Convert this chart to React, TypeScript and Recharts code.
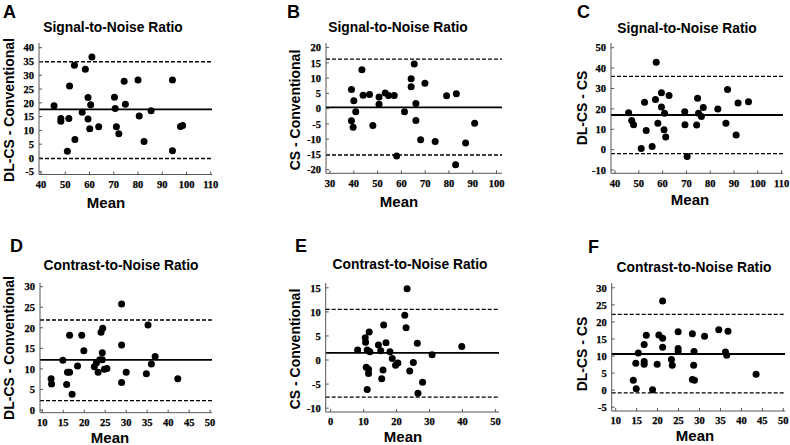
import React from "react";
import { ScatterChart, Scatter, XAxis, YAxis, ReferenceLine } from "recharts";

const W = 790;
const H = 445;

// [mean, difference] pairs
const snrDlVsConv = [
  [45.4, 18.9], [48.2, 14.3], [48.2, 13.3], [51.5, 14.3], [50.9, 2.4], [51.8, 26.1],
  [53.8, 33.6], [54.0, 6.7], [57.0, 16.6], [58.3, 32.2], [59.4, 21.9], [59.4, 14.1],
  [60.1, 10.6], [60.5, 19.3], [61.0, 36.6], [63.8, 11.3], [70.3, 22.0], [70.6, 17.9],
  [71.1, 11.3], [72.1, 8.8], [74.3, 27.8], [74.8, 19.5], [80.0, 28.3], [80.5, 15.2],
  [82.5, 6.0], [85.4, 17.1], [94.2, 28.3], [94.2, 2.6], [97.5, 11.4], [98.4, 11.8],
];
const snrCsVsConv = [
  [39.0, 6.3], [39.0, -4.0], [39.7, -6.1], [40.0, 2.6], [40.8, -1.0], [43.4, 12.7],
  [43.9, 4.4], [46.6, 4.6], [48.0, -5.5], [50.6, 3.8], [50.6, 1.4], [53.2, 5.1],
  [54.6, 4.3], [57.0, 4.3], [58.0, -15.5], [61.3, -1.0], [64.1, 9.8], [64.1, 7.2],
  [65.4, 14.6], [66.1, 1.7], [66.1, -3.9], [68.1, -10.2], [69.9, 8.3], [74.2, -10.8],
  [79.0, 4.2], [82.8, -18.4], [83.1, 4.9], [87.0, -11.3], [90.8, -4.8],
];
const snrDlVsCs = [
  [45.7, 18.1], [47.0, 14.3], [47.8, 12.2], [51.0, 0.6], [52.4, 23.3], [53.1, 9.4],
  [55.6, 1.6], [57.0, 24.6], [57.3, 42.8], [58.0, 13.0], [59.5, 27.9], [59.5, 20.9],
  [60.6, 9.8], [60.8, 17.9], [61.3, 6.2], [62.7, 26.6], [69.3, 18.6], [69.4, 12.2],
  [70.3, -3.3], [74.3, 12.1], [74.7, 25.2], [75.1, 17.9], [76.3, 16.3], [77.1, 20.7],
  [83.2, 19.9], [86.6, 13.0], [87.3, 29.5], [90.9, 7.2], [91.7, 22.9], [96.1, 23.5],
];
const cnrDlVsConv = [
  [12.1, 7.6], [12.2, 6.3], [14.9, 12.1], [15.8, 6.2], [16.0, 9.2], [16.5, 9.2],
  [16.5, 18.2], [17.1, 3.8], [18.4, 10.7], [19.4, 18.2], [19.9, 14.4], [22.4, 10.5],
  [22.9, 11.5], [23.3, 9.2], [23.7, 12.2], [24.0, 18.9], [24.4, 19.9], [24.3, 13.9],
  [24.3, 12.2], [24.8, 9.9], [25.4, 10.1], [28.9, 25.8], [28.9, 15.8], [28.9, 6.7],
  [30.0, 9.2], [34.8, 8.8], [35.2, 20.7], [36.0, 11.2], [36.9, 13.0], [42.3, 7.6],
];
const cnrCsVsConv = [
  [8.2, 2.1], [10.5, 4.6], [10.6, 3.7], [10.8, -1.5], [11.1, 2.1], [11.1, -6.1],
  [11.5, -1.9], [11.5, -2.8], [11.7, 5.8], [11.9, 1.7], [16.1, 7.3], [14.5, 3.1],
  [15.2, 1.9], [15.5, -3.9], [15.9, -2.1], [16.8, 3.6], [18.0, 1.7], [18.7, 0.3],
  [19.7, -1.1], [20.4, -0.6], [22.5, 9.3], [22.9, 6.7], [23.2, 14.8], [24.0, -2.3],
  [25.1, -0.5], [26.3, 3.5], [26.5, -6.9], [27.9, -4.6], [30.8, 1.1], [39.8, 2.8],
];
const cnrDlVsCs = [
  [14.2, 2.9], [14.8, 7.9], [14.9, 0.4], [15.4, 10.9], [16.8, 13.4], [16.8, 8.4],
  [16.8, 7.6], [17.3, 16.1], [18.8, 0.1], [19.9, 7.6], [20.3, 16.2], [21.2, 15.2],
  [21.2, 12.6], [21.2, 26.1], [23.3, 9.0], [23.5, 7.3], [24.9, 17.1], [24.9, 12.2],
  [24.9, 11.3], [28.3, 16.5], [28.3, 3.1], [28.6, 7.3], [28.7, 11.3], [28.8, 2.9],
  [31.2, 15.8], [34.6, 17.7], [36.2, 11.2], [36.5, 10.2], [36.8, 17.3], [43.5, 4.7],
];

// bias, upper limit, lower limit
const snrDlVsConvLines = [17.6, 34.9, -0.2];
const snrCsVsConvLines = [0.4, 16.2, -15.2];
const snrDlVsCsLines = [17.0, 35.9, -2.0];
const cnrDlVsConvLines = [12.2, 21.9, 2.3];
const cnrCsVsConvLines = [1.5, 10.5, -7.7];
const cnrDlVsCsLines = [10.6, 22.2, -0.8];

const ticksA_x = [40, 50, 60, 70, 80, 90, 100, 110];
const ticksA_y = [-5, 0, 5, 10, 15, 20, 25, 30, 35, 40];
const ticksB_x = [30, 40, 50, 60, 70, 80, 90, 100];
const ticksB_y = [-20, -15, -10, -5, 0, 5, 10, 15, 20];
const ticksC_x = [40, 50, 60, 70, 80, 90, 100, 110];
const ticksC_y = [-10, 0, 10, 20, 30, 40, 50];
const ticksD_x = [10, 15, 20, 25, 30, 35, 40, 45, 50];
const ticksD_y = [0, 5, 10, 15, 20, 25, 30];
const ticksE_x = [0, 10, 20, 30, 40, 50];
const ticksE_y = [-10, -5, 0, 5, 10, 15];
const ticksF_x = [10, 15, 20, 25, 30, 35, 40, 45, 50];
const ticksF_y = [-5, 0, 5, 10, 15, 20, 25, 30];

const panels = [
  { letter: "A", title: "Signal-to-Noise Ratio", yLabel: "DL-CS - Conventional", points: snrDlVsConv, lines: snrDlVsConvLines,
    xTicks: ticksA_x, yTicks: ticksA_y, xDomain: [39.2, 110.5], yDomain: [-6, 41.7],
    rect: { left: 39, right: 212, top: 43, bottom: 174.5 },
    letterPos: [3, 18], titlePos: [113, 32], yLabelPos: [13.5, 110], meanPos: [106, 208] },
  { letter: "B", title: "Signal-to-Noise Ratio", yLabel: "CS - Conventional", points: snrCsVsConv, lines: snrCsVsConvLines,
    xTicks: ticksB_x, yTicks: ticksB_y, xDomain: [28.3, 102.3], yDomain: [-21.2, 21.5],
    rect: { left: 326, right: 502, top: 43, bottom: 173.3 },
    letterPos: [287, 18], titlePos: [398, 32], yLabelPos: [300, 110], meanPos: [399, 207] },
  { letter: "C", title: "Signal-to-Noise Ratio", yLabel: "DL-CS - CS", points: snrDlVsCs, lines: snrDlVsCsLines,
    xTicks: ticksC_x, yTicks: ticksC_y, xDomain: [38.3, 110.6], yDomain: [-11.6, 52.3],
    rect: { left: 611, right: 783, top: 43, bottom: 173.3 },
    letterPos: [577, 18], titlePos: [687, 33], yLabelPos: [587, 108], meanPos: [690, 205] },
  { letter: "D", title: "Contrast-to-Noise Ratio", yLabel: "DL-CS - Conventional", points: cnrDlVsConv, lines: cnrDlVsConvLines,
    xTicks: ticksD_x, yTicks: ticksD_y, xDomain: [9.45, 50.45], yDomain: [-0.66, 30.9],
    rect: { left: 40, right: 212, top: 283, bottom: 412.7 },
    letterPos: [10, 252], titlePos: [121, 270], yLabelPos: [13.5, 348], meanPos: [110, 443] },
  { letter: "E", title: "Contrast-to-Noise Ratio", yLabel: "CS - Conventional", points: cnrCsVsConv, lines: cnrCsVsConvLines,
    xTicks: ticksE_x, yTicks: ticksE_y, xDomain: [-1.5, 51.1], yDomain: [-10.8, 16],
    rect: { left: 325.7, right: 499, top: 283, bottom: 412 },
    letterPos: [295, 252], titlePos: [410, 269], yLabelPos: [300, 349], meanPos: [403, 442] },
  { letter: "F", title: "Contrast-to-Noise Ratio", yLabel: "DL-CS - CS", points: cnrDlVsCs, lines: cnrDlVsCsLines,
    xTicks: ticksF_x, yTicks: ticksF_y, xDomain: [9.05, 50.4], yDomain: [-6.1, 31.4],
    rect: { left: 611.7, right: 785, top: 283, bottom: 411 },
    letterPos: [588, 253], titlePos: [694, 272], yLabelPos: [587, 354], meanPos: [695, 441] },
];

const axisColor = "#555";
const tickStyle = {
  fontFamily: "Liberation Serif, Times New Roman, serif",
  fontWeight: 700,
  fontSize: 10.5,
  fill: "#000",
  stroke: "#000",
  strokeWidth: 0.25,
};
const sans = "Liberation Sans, Arial, sans-serif";

const Dot = (props: any) => <circle cx={props.cx} cy={props.cy} r={3.5} fill="#000" />;

function Panel({ p }: { p: any }) {
  const data = p.points.map(([x, y]: number[]) => ({ x, y }));
  const yAxisW = 30;
  const xAxisH = 20;
  const margin = {
    left: p.rect.left - yAxisW,
    right: W - p.rect.right,
    top: p.rect.top,
    bottom: H - p.rect.bottom - xAxisH,
  };
  const [bias, upper, lower] = p.lines;
  return (
    <div style={{ position: "absolute", left: 0, top: 0 }}>
      <ScatterChart width={W} height={H} margin={margin}>
        {/* negative tickSize draws the short tick marks inside the plot */}
        <XAxis type="number" dataKey="x" domain={p.xDomain} ticks={p.xTicks} allowDataOverflow
          height={xAxisH} tickSize={-3} tickMargin={9} interval={0} stroke={axisColor} tick={tickStyle} />
        <YAxis type="number" dataKey="y" domain={p.yDomain} ticks={p.yTicks} allowDataOverflow
          width={yAxisW} tickSize={-3} tickMargin={8} interval={0} stroke={axisColor} tick={tickStyle} />
        <ReferenceLine y={upper} stroke="#000" strokeWidth={1.3} strokeDasharray="4 2" />
        <ReferenceLine y={lower} stroke="#000" strokeWidth={1.3} strokeDasharray="4 2" />
        <ReferenceLine y={bias} stroke="#000" strokeWidth={1.8} />
        <Scatter data={data} shape={Dot} isAnimationActive={false} />
      </ScatterChart>
    </div>
  );
}

export default function App() {
  return (
    <div style={{ position: "absolute", left: 0, top: 0, width: W, height: H, background: "#fff" }}>
      {panels.map((p) => (
        <Panel key={p.letter} p={p} />
      ))}
      <svg width={W} height={H} style={{ position: "absolute", left: 0, top: 0, pointerEvents: "none" }}>
        {panels.map((p) => (
          <g key={p.letter} fontFamily={sans} fontWeight={700} fill="#000">
            <text x={p.letterPos[0]} y={p.letterPos[1]} fontSize={18}>{p.letter}</text>
            <text x={p.titlePos[0]} y={p.titlePos[1]} fontSize={13.8} textAnchor="middle">{p.title}</text>
            <text transform={`translate(${p.yLabelPos[0]},${p.yLabelPos[1]}) rotate(-90)`} fontSize={14} textAnchor="middle">{p.yLabel}</text>
            <text x={p.meanPos[0]} y={p.meanPos[1]} fontSize={15} textAnchor="middle">Mean</text>
          </g>
        ))}
      </svg>
    </div>
  );
}
